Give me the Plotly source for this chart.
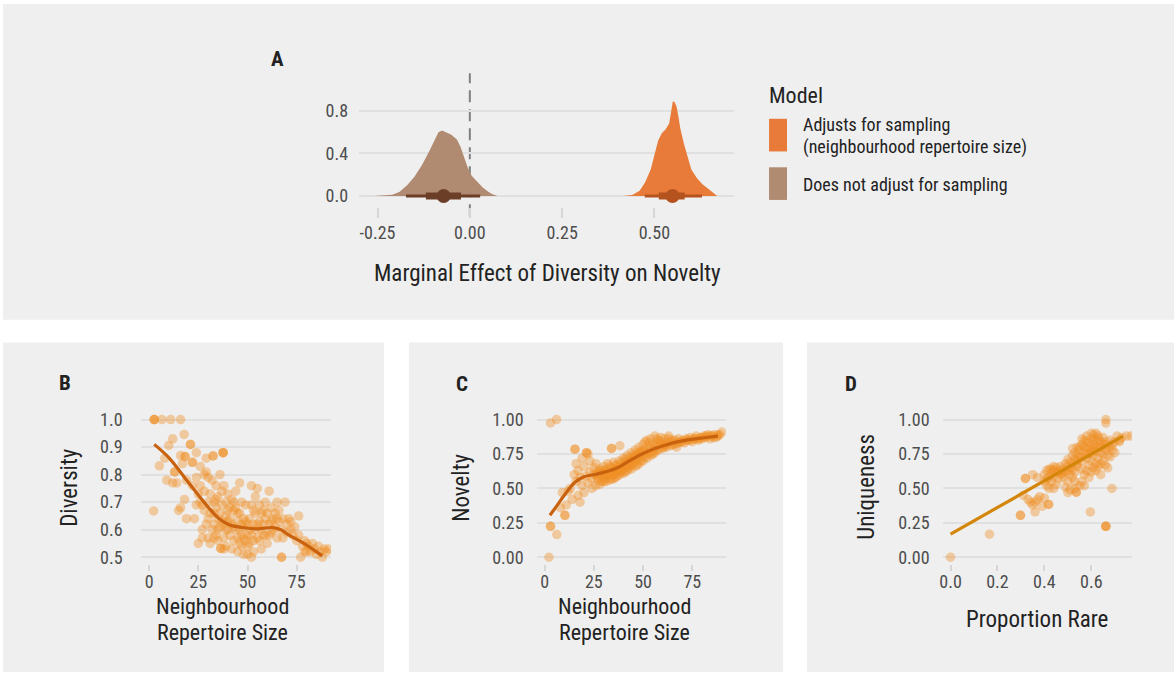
import plotly.graph_objects as go

# ---------------- data ----------------
# Panel A: posterior densities of the marginal effect
brown_x = [-0.26, -0.23, -0.21, -0.19, -0.17, -0.15, -0.13, -0.11, -0.095, -0.085, -0.075,
           -0.065, -0.05, -0.035, -0.025, -0.015, -0.005, 0.005, 0.02, 0.035, 0.05, 0.06, 0.075]
brown_d = [0.0, 0.005, 0.012, 0.04, 0.10, 0.18, 0.29, 0.42, 0.52, 0.60, 0.615,
           0.60, 0.575, 0.53, 0.46, 0.36, 0.26, 0.19, 0.13, 0.08, 0.04, 0.02, 0.0]
orange_x = [0.415, 0.44, 0.46, 0.475, 0.49, 0.50, 0.51, 0.52, 0.53, 0.54, 0.545, 0.55,
            0.555, 0.56, 0.565, 0.57, 0.58, 0.59, 0.60, 0.615, 0.63, 0.645, 0.66, 0.67]
orange_d = [0.0, 0.01, 0.05, 0.13, 0.25, 0.38, 0.52, 0.59, 0.625, 0.68, 0.80, 0.89,
            0.88, 0.84, 0.75, 0.64, 0.49, 0.36, 0.25, 0.17, 0.11, 0.07, 0.025, 0.0]
# point estimate, 66% and 95% intervals
brown_est, brown_66, brown_95 = -0.071, [-0.119, -0.024], [-0.173, 0.028]
orange_est, orange_66, orange_95 = 0.549, [0.512, 0.582], [0.474, 0.629]

model_labels = [["Adjusts for sampling", "(neighbourhood repertoire size)"],
                ["Does not adjust for sampling"]]

a_xticks = [-0.25, 0.0, 0.25, 0.5]
a_xtext = ["-0.25", "0.00", "0.25", "0.50"]
a_yticks = [0.0, 0.4, 0.8]
a_ytext = ["0.0", "0.4", "0.8"]

# Panel B: diversity vs neighbourhood repertoire size
b_x = [2.6, 2.6, 2.6, 6.5, 11, 16, 17.8, 2.3, 5.2, 8,
       9, 10, 12, 13, 13, 14, 15, 16, 17, 18.3,
       18.3, 18, 19, 12, 19, 16, 21, 21, 22, 22,
       22, 23, 24, 24, 25, 25, 26, 26, 27, 27,
       28, 28, 29, 29, 29, 30, 30, 30, 31, 31,
       32, 32.5, 32.5, 33, 33, 34, 34, 34, 35, 35,
       35, 36, 36, 36, 37, 37, 37.6, 37.6, 37.6, 38,
       38, 38, 39, 39, 39, 40, 40, 40, 31, 33,
       36.4, 36.4, 38, 41, 41, 42, 42, 42, 43, 43,
       44, 44, 45, 45, 45, 46, 46, 46, 47, 47,
       48, 48, 48, 49, 49, 50, 50, 50, 43, 47,
       51, 51, 52, 52, 52, 53, 53, 54, 54, 54,
       55, 55, 56, 56, 57, 57, 58, 58, 59, 59,
       60, 60, 61, 61, 62, 62, 63, 64, 64, 65,
       65, 66, 66, 67, 68, 69, 67.3, 67.3, 70, 70,
       71, 72, 73, 74, 75, 76, 77, 78, 79, 80,
       80, 81, 82, 83, 84, 85, 86, 87, 88, 89,
       90, 91, 27, 30, 33, 35, 40, 44, 28, 32,
       34, 37, 39, 41, 43, 45, 47, 49, 51, 53,
       55, 57, 59, 61, 63, 65, 68, 72, 76, 79,
       46, 48, 50, 52, 53, 56, 58, 62, 26, 24]
b_y = [1.0, 1.0, 1.0, 1.0, 1.0, 1.0, 0.946, 0.668, 0.832, 0.86,
       0.78, 0.906, 0.93, 0.81, 0.81, 0.77, 0.67, 0.68, 0.84, 0.866,
       0.866, 0.71, 0.78, 0.77, 0.64, 0.87, 0.91, 0.91, 0.845, 0.845,
       0.76, 0.64, 0.88, 0.79, 0.73, 0.55, 0.70, 0.83, 0.60, 0.57,
       0.74, 0.67, 0.86, 0.81, 0.62, 0.79, 0.70, 0.57, 0.73, 0.66,
       0.60, 0.868, 0.868, 0.70, 0.62, 0.76, 0.68, 0.58, 0.64, 0.72,
       0.56, 0.80, 0.66, 0.61, 0.74, 0.69, 0.88, 0.88, 0.88, 0.62,
       0.57, 0.76, 0.70, 0.65, 0.54, 0.73, 0.60, 0.67, 0.55, 0.57,
       0.532, 0.532, 0.53, 0.64, 0.58, 0.71, 0.62, 0.53, 0.67, 0.56,
       0.60, 0.74, 0.63, 0.57, 0.52, 0.77, 0.66, 0.60, 0.58, 0.54,
       0.64, 0.61, 0.51, 0.69, 0.56, 0.62, 0.58, 0.51, 0.70, 0.62,
       0.64, 0.55, 0.69, 0.76, 0.58, 0.62, 0.52, 0.66, 0.72, 0.60,
       0.75, 0.57, 0.63, 0.69, 0.60, 0.53, 0.67, 0.62, 0.64, 0.58,
       0.66, 0.55, 0.74, 0.62, 0.68, 0.59, 0.64, 0.66, 0.61, 0.70,
       0.57, 0.63, 0.67, 0.60, 0.64, 0.70, 0.50, 0.50, 0.62, 0.59,
       0.64, 0.63, 0.58, 0.61, 0.56, 0.65, 0.50, 0.54, 0.52, 0.55,
       0.52, 0.54, 0.52, 0.55, 0.53, 0.51, 0.54, 0.52, 0.50, 0.53,
       0.52, 0.53, 0.69, 0.64, 0.66, 0.60, 0.63, 0.68, 0.80, 0.78,
       0.71, 0.63, 0.60, 0.68, 0.61, 0.66, 0.70, 0.63, 0.60, 0.67,
       0.62, 0.66, 0.70, 0.58, 0.60, 0.64, 0.57, 0.60, 0.58, 0.56,
       0.55, 0.57, 0.54, 0.50, 0.56, 0.56, 0.58, 0.63, 0.76, 0.69]
b_fit_x = [2.6, 10, 18, 24.6, 30, 35.6, 41, 47.4, 55, 62.6, 67, 71.1, 78, 84, 88]
b_fit_y = [0.910, 0.862, 0.79, 0.730, 0.682, 0.640, 0.617, 0.608, 0.603, 0.608,
           0.600, 0.580, 0.553, 0.525, 0.505]

# Panel C: novelty vs neighbourhood repertoire size
c_x = [3, 6.1, 3, 3, 6.2, 2.2, 10.3, 10.3, 8, 9,
       11, 12, 13, 14, 15.4, 15.4, 15, 16, 16, 17,
       17, 18, 18, 19, 19, 20, 20, 21.3, 21.3, 21,
       22, 22, 23, 23, 24, 24, 25, 25, 26, 26,
       27, 27, 28, 28, 29, 29, 30, 30, 31, 31,
       32, 32, 33, 33, 34, 34, 34, 35, 35, 36,
       36, 37, 37, 38.2, 38, 38, 39, 39, 40, 40,
       41, 41, 42, 42, 43, 43, 44, 44, 45, 45,
       46, 46, 47, 47, 48, 48, 49, 49, 50, 50,
       51, 51, 52, 52, 53, 53, 54, 54, 55, 55,
       56, 56, 57, 57, 58, 58, 59, 60, 60, 61,
       62, 62, 63, 64, 65, 66, 67, 68, 69, 70,
       71, 72, 73, 74, 75, 76, 77, 78, 79, 80,
       81, 82, 83, 84, 85, 86, 87, 88, 89, 90,
       26, 27, 28, 29, 30, 31, 32, 33, 34, 35,
       36, 37, 38, 39, 40, 41, 42, 43, 44, 45,
       46, 47, 48, 49, 50, 30, 33, 35, 37, 40,
       42, 44, 46, 48, 50, 52, 54, 56, 58, 60,
       62, 64, 66, 68, 70, 72, 74, 76, 78, 80,
       82, 84, 86, 88, 59, 63, 53, 57, 61, 65,
       28, 31, 34, 36, 39, 43, 47, 51, 55, 67]
c_y = [0.976, 1.0, 0.225, 0.225, 0.165, 0.0, 0.305, 0.305, 0.36, 0.47,
       0.38, 0.48, 0.50, 0.42, 0.785, 0.785, 0.60, 0.68, 0.55, 0.45,
       0.63, 0.40, 0.58, 0.72, 0.52, 0.66, 0.47, 0.76, 0.76, 0.59,
       0.75, 0.54, 0.62, 0.70, 0.50, 0.57, 0.65, 0.60, 0.52, 0.68,
       0.56, 0.62, 0.59, 0.64, 0.55, 0.61, 0.66, 0.58, 0.63, 0.57,
       0.60, 0.68, 0.62, 0.56, 0.79, 0.79, 0.65, 0.60, 0.69, 0.64,
       0.58, 0.67, 0.62, 0.81, 0.70, 0.60, 0.66, 0.63, 0.72, 0.64,
       0.68, 0.62, 0.74, 0.66, 0.70, 0.65, 0.76, 0.67, 0.72, 0.68,
       0.78, 0.70, 0.74, 0.67, 0.80, 0.72, 0.76, 0.70, 0.82, 0.74,
       0.78, 0.84, 0.76, 0.85, 0.80, 0.75, 0.86, 0.79, 0.82, 0.77,
       0.88, 0.80, 0.83, 0.78, 0.85, 0.81, 0.87, 0.82, 0.79, 0.86,
       0.83, 0.80, 0.88, 0.84, 0.82, 0.85, 0.83, 0.86, 0.84, 0.85,
       0.83, 0.86, 0.85, 0.87, 0.84, 0.86, 0.88, 0.85, 0.87, 0.86,
       0.88, 0.87, 0.89, 0.86, 0.88, 0.89, 0.87, 0.88, 0.89, 0.91,
       0.60, 0.58, 0.62, 0.63, 0.61, 0.60, 0.64, 0.66, 0.61, 0.63,
       0.67, 0.65, 0.64, 0.69, 0.67, 0.71, 0.69, 0.72, 0.71, 0.74,
       0.73, 0.76, 0.75, 0.77, 0.78, 0.55, 0.59, 0.57, 0.59, 0.61,
       0.63, 0.64, 0.66, 0.68, 0.70, 0.72, 0.74, 0.76, 0.78, 0.80,
       0.82, 0.81, 0.82, 0.83, 0.84, 0.85, 0.85, 0.86, 0.86, 0.87,
       0.88, 0.88, 0.87, 0.89, 0.84, 0.86, 0.83, 0.86, 0.81, 0.85,
       0.53, 0.55, 0.57, 0.61, 0.62, 0.67, 0.71, 0.73, 0.75, 0.80]
c_fit_x = [2.7, 6, 10, 15.4, 20, 26.4, 32, 37.3, 43, 49.2, 56, 62.7, 68, 74.5, 81, 88]
c_fit_y = [0.305, 0.37, 0.45, 0.545, 0.585, 0.604, 0.625, 0.652, 0.70, 0.748,
           0.79, 0.820, 0.84, 0.856, 0.868, 0.88]

# Panel D: uniqueness vs proportion rare
d_x = [0.0, 0.166, 0.298, 0.298, 0.319, 0.319, 0.418, 0.418, 0.536, 0.536,
       0.596, 0.662, 0.662, 0.662, 0.688, 0.662, 0.662, 0.75, 0.77, 0.73,
       0.72, 0.33, 0.34, 0.35, 0.36, 0.37, 0.38, 0.39, 0.40, 0.36,
       0.31, 0.35, 0.37, 0.40, 0.40, 0.41, 0.41, 0.42, 0.42, 0.43,
       0.43, 0.44, 0.44, 0.45, 0.45, 0.42, 0.44, 0.46, 0.41, 0.43,
       0.45, 0.47, 0.47, 0.48, 0.48, 0.49, 0.49, 0.50, 0.50, 0.50,
       0.51, 0.51, 0.52, 0.52, 0.52, 0.53, 0.53, 0.53, 0.54, 0.54,
       0.54, 0.55, 0.55, 0.55, 0.50, 0.51, 0.52, 0.54, 0.49, 0.51,
       0.53, 0.56, 0.56, 0.56, 0.57, 0.57, 0.57, 0.58, 0.58, 0.58,
       0.59, 0.59, 0.59, 0.60, 0.60, 0.60, 0.60, 0.61, 0.61, 0.61,
       0.62, 0.62, 0.62, 0.63, 0.63, 0.63, 0.64, 0.64, 0.64, 0.65,
       0.65, 0.65, 0.56, 0.57, 0.58, 0.59, 0.61, 0.62, 0.63, 0.55,
       0.56, 0.58, 0.60, 0.62, 0.63, 0.59, 0.61, 0.66, 0.66, 0.67,
       0.67, 0.68, 0.68, 0.69, 0.69, 0.70, 0.71, 0.72, 0.66, 0.67,
       0.65, 0.64, 0.46, 0.48, 0.50, 0.52, 0.54, 0.56, 0.58, 0.60,
       0.62, 0.64, 0.66, 0.68, 0.70, 0.44, 0.47, 0.53, 0.57, 0.61]
d_y = [0.0, 0.168, 0.305, 0.305, 0.573, 0.573, 0.384, 0.384, 0.473, 0.473,
       0.329, 0.225, 0.225, 0.225, 0.50, 1.0, 0.975, 0.88, 0.88, 0.87,
       0.85, 0.42, 0.40, 0.38, 0.33, 0.42, 0.44, 0.37, 0.43, 0.40,
       0.45, 0.60, 0.58, 0.55, 0.60, 0.63, 0.52, 0.58, 0.64, 0.61,
       0.55, 0.66, 0.59, 0.62, 0.53, 0.50, 0.50, 0.57, 0.57, 0.64,
       0.65, 0.60, 0.66, 0.58, 0.64, 0.62, 0.68, 0.47, 0.55, 0.71,
       0.65, 0.60, 0.74, 0.68, 0.79, 0.55, 0.62, 0.76, 0.70, 0.66,
       0.80, 0.52, 0.73, 0.78, 0.63, 0.69, 0.58, 0.74, 0.51, 0.49,
       0.50, 0.82, 0.70, 0.64, 0.76, 0.85, 0.60, 0.79, 0.72, 0.88,
       0.83, 0.67, 0.75, 0.86, 0.78, 0.70, 0.62, 0.82, 0.89, 0.74,
       0.85, 0.77, 0.68, 0.88, 0.80, 0.72, 0.84, 0.76, 0.60, 0.82,
       0.87, 0.70, 0.55, 0.52, 0.63, 0.58, 0.65, 0.63, 0.66, 0.80,
       0.86, 0.84, 0.90, 0.90, 0.86, 0.80, 0.79, 0.78, 0.84, 0.74,
       0.80, 0.73, 0.85, 0.78, 0.82, 0.76, 0.88, 0.84, 0.67, 0.65,
       0.75, 0.68, 0.62, 0.61, 0.66, 0.64, 0.68, 0.73, 0.75, 0.76,
       0.80, 0.80, 0.82, 0.80, 0.84, 0.63, 0.63, 0.71, 0.80, 0.85]
d_fit_x = [0.0, 0.735]
d_fit_y = [0.168, 0.880]

size_ticks = [0, 25, 50, 75]
b_yticks = [0.5, 0.6, 0.7, 0.8, 0.9, 1.0]
b_ytext = ["0.5", "0.6", "0.7", "0.8", "0.9", "1.0"]
unit_ticks = [0.0, 0.25, 0.5, 0.75, 1.0]
unit_text = ["0.00", "0.25", "0.50", "0.75", "1.00"]
d_xticks = [0.0, 0.2, 0.4, 0.6]
d_xtext = ["0.0", "0.2", "0.4", "0.6"]

# ---------------- style ----------------
W, H = 1174, 675
FONT = "Roboto Condensed, Roboto, sans-serif"
PANEL = "#efefef"
GRID = "#e0e0e0"
TICKC = "#4d4d4d"
TITLEC = "#222222"
ORANGE = "#E87B3A"
BROWN = "#B08B72"
ORANGE_DARK = "#B5531F"
BROWN_DARK = "#6B3F27"
PT = "rgb(239,143,35)"


def fx(p):
    return p / W


def fy(p):
    return 1 - p / H


fig = go.Figure()

# ---- panel A: densities + point intervals
for dx, dd, col in [(brown_x, brown_d, BROWN), (orange_x, orange_d, ORANGE)]:
    fig.add_trace(go.Scatter(x=dx, y=dd, mode="lines", fill="tozeroy", fillcolor=col,
                             line=dict(width=0, color=col), xaxis="x", yaxis="y",
                             hoverinfo="skip"))
for est, i66, i95, col in [(brown_est, brown_66, brown_95, BROWN_DARK),
                           (orange_est, orange_66, orange_95, ORANGE_DARK)]:
    fig.add_trace(go.Scatter(x=i95, y=[0, 0], mode="lines", line=dict(color=col, width=3),
                             xaxis="x", yaxis="y"))
    fig.add_trace(go.Scatter(x=i66, y=[0, 0], mode="lines", line=dict(color=col, width=7),
                             xaxis="x", yaxis="y"))
    fig.add_trace(go.Scatter(x=[est], y=[0], mode="markers",
                             marker=dict(color=col, size=14), xaxis="x", yaxis="y"))

# ---- panels B, C, D: scatter + fit
for xs, ys, fxs, fys, ax, lc in [
    (b_x, b_y, b_fit_x, b_fit_y, "2", "#C9620F"),
    (c_x, c_y, c_fit_x, c_fit_y, "3", "#C9620F"),
    (d_x, d_y, d_fit_x, d_fit_y, "4", "#D4860B"),
]:
    fig.add_trace(go.Scatter(x=xs, y=ys, mode="markers",
                             marker=dict(color=PT, opacity=0.4, size=9.5, line=dict(width=0)),
                             xaxis="x" + ax, yaxis="y" + ax))
    fig.add_trace(go.Scatter(x=fxs, y=fys, mode="lines",
                             line=dict(color=lc, width=3.2, shape="spline" if ax != "4" else "linear"),
                             xaxis="x" + ax, yaxis="y" + ax))

tickfont = dict(family=FONT, size=18, color=TICKC)


def xaxis(dom, rng, tv, tt, ticklen, standoff):
    return dict(domain=[fx(dom[0]), fx(dom[1])], range=rng, tickvals=tv, ticktext=tt,
                showgrid=False, zeroline=False, showline=False, ticks="outside",
                ticklen=ticklen, tickwidth=2, tickcolor="#d6d6d6", tickfont=tickfont,
                ticklabelstandoff=standoff, fixedrange=True)


def yaxis(dom, rng, tv, tt, anchor, standoff):
    return dict(domain=[fy(dom[1]), fy(dom[0])], range=rng, tickvals=tv, ticktext=tt,
                showgrid=True, gridcolor=GRID, gridwidth=2, zeroline=False, showline=False,
                ticks="", tickfont=tickfont, ticklabelstandoff=standoff, anchor=anchor,
                fixedrange=True)


shapes = [
    dict(type="rect", xref="paper", yref="paper", x0=fx(0), x1=fx(1174), y0=fy(319), y1=fy(0),
         fillcolor=PANEL, line=dict(width=0), layer="below"),
    dict(type="rect", xref="paper", yref="paper", x0=fx(0), x1=fx(382), y0=fy(675), y1=fy(342),
         fillcolor=PANEL, line=dict(width=0), layer="below"),
    dict(type="rect", xref="paper", yref="paper", x0=fx(407), x1=fx(782), y0=fy(675), y1=fy(342),
         fillcolor=PANEL, line=dict(width=0), layer="below"),
    dict(type="rect", xref="paper", yref="paper", x0=fx(806), x1=fx(1174), y0=fy(675), y1=fy(342),
         fillcolor=PANEL, line=dict(width=0), layer="below"),
    # reference line at zero effect
    dict(type="line", xref="x", yref="y domain", x0=0, x1=0, y0=-0.07, y1=1,
         line=dict(color="#808080", width=2, dash="12px,7px"), layer="below"),
    # legend keys
    dict(type="rect", xref="paper", yref="paper", x0=fx(768), x1=fx(786), y0=fy(149), y1=fy(116),
         fillcolor=ORANGE, line=dict(width=0)),
    dict(type="rect", xref="paper", yref="paper", x0=fx(768), x1=fx(786), y0=fy(198), y1=fy(165),
         fillcolor=BROWN, line=dict(width=0)),
]


def note(text, x, y, size, color=TITLEC, bold=False, angle=0, xanchor="center"):
    return dict(text=f"<b>{text}</b>" if bold else text, xref="paper", yref="paper",
                x=fx(x), y=fy(y), showarrow=False, textangle=angle, xanchor=xanchor,
                yanchor="middle", align="left" if xanchor == "left" else "center",
                font=dict(family=FONT, size=size, color=color))


annotations = [
    note("A", 275, 56, 21, bold=True),
    note("B", 62, 383, 21, bold=True),
    note("C", 460, 384, 21, bold=True),
    note("D", 850, 384, 21, bold=True),
    note("Marginal Effect of Diversity on Novelty", 546, 272, 23),
    note("Neighbourhood", 220, 609, 22),
    note("Repertoire Size", 220, 635, 22),
    note("Neighbourhood", 623, 609, 22),
    note("Repertoire Size", 623, 635, 22),
    note("Proportion Rare", 1037, 622, 23),
    note("Diversity", 67, 489, 23, angle=-90),
    note("Novelty", 460, 489, 23, angle=-90),
    note("Uniqueness", 866, 488, 23, angle=-90),
    note("Model", 766, 92, 22, xanchor="left"),
    note(model_labels[0][0], 800, 122, 18, xanchor="left"),
    note(model_labels[0][1], 800, 144, 18, xanchor="left"),
    note(model_labels[1][0], 800, 182, 18, xanchor="left"),
]

fig.update_layout(
    width=W, height=H, margin=dict(l=0, r=0, t=0, b=0),
    paper_bgcolor="white", plot_bgcolor="rgba(0,0,0,0)", showlegend=False,
    font=dict(family=FONT),
    xaxis=xaxis((357, 733), [-0.30, 0.716], a_xticks, a_xtext, 10, 0),
    yaxis=yaxis((70, 205), [-0.102, 1.153], a_yticks, a_ytext, "x", 10),
    xaxis2=xaxis((138, 329), [-4.3, 92.5], size_ticks, [str(v) for v in size_ticks], 6, -5),
    yaxis2=yaxis((413, 566), [0.475, 1.025], b_yticks, b_ytext, "x2", 17),
    xaxis3=xaxis((535, 725), [-4.05, 92.2], size_ticks, [str(v) for v in size_ticks], 6, -5),
    yaxis3=yaxis((413, 566), [-0.05, 1.05], unit_ticks, unit_text, "x3", 12),
    xaxis4=xaxis((942, 1132), [-0.034, 0.774], d_xticks, d_xtext, 6, -5),
    yaxis4=yaxis((413, 566), [-0.05, 1.05], unit_ticks, unit_text, "x4", 12),
    shapes=shapes, annotations=annotations,
)
for i in ["", "2", "3", "4"]:
    fig.layout["xaxis" + i].anchor = "y" + i

fig.write_html("out.html")
